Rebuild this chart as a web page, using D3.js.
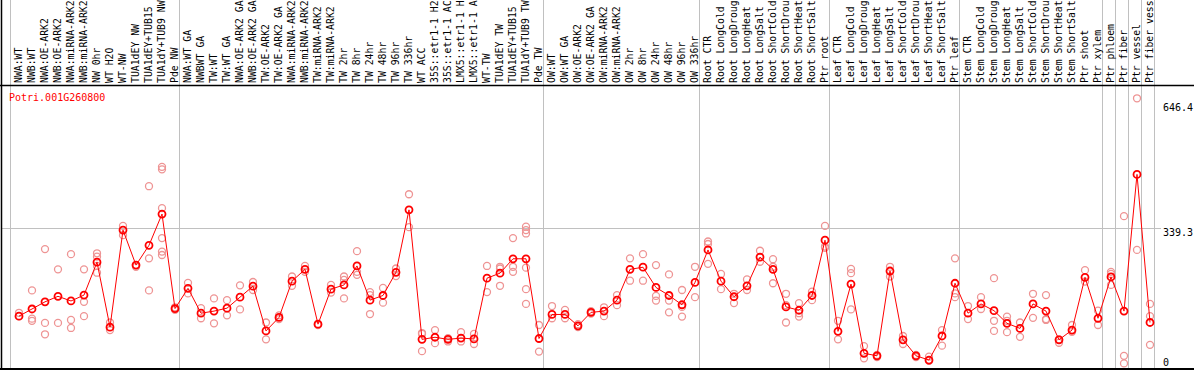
<!DOCTYPE html>
<html>
<head>
<meta charset="utf-8">
<script src="https://cdn.jsdelivr.net/npm/d3@7/dist/d3.min.js"></script>
<style>
  body { margin: 0; background: #fff; }
  svg { display: block; }
  text { font-family: "DejaVu Sans Mono", "Liberation Mono", monospace; }
</style>
</head>
<body>
<script>
var svgWidth = 1194;
var svgHeight = 370;

var geneName = "Potri.001G260800";

var samples = [
  "NWA:WT", "NWB:WT", "NWA:OE-ARK2", "NWB:OE-ARK2", "NWA:miRNA-ARK2", "NWB:miRNA-ARK2",
  "NW 0hr", "WT H2O", "WT-NW", "TUA1dEY NW", "TUA1dEY+TUB15", "TUA1dY+TUB9 NW", "Pde NW",
  "NWA:WT GA", "NWBWT GA", "TW:WT", "TW:WT GA", "NWA:OE-ARK2 GA", "NWB:OE-ARK2 GA",
  "TW:OE-ARK2", "TW:OE-ARK2 GA", "NWA:miRNA-ARK2 ", "NWB:miRNA-ARK2 ", "TW:miRNA-ARK2",
  "TW:miRNA-ARK2 ", "TW 2hr", "TW 8hr", "TW 24hr", "TW 48hr", "TW 96hr", "TW 336hr",
  "WT ACC", "35S::etr1-1 H2O", "35S::etr1-1 ACC", "LMX5::etr1-1 H2O", "LMX5::etr1-1 ACC",
  "WT-TW", "TUA1dEY TW", "TUA1dEY+TUB15 ", "TUA1dY+TUB9 TW", "Pde TW",
  "OW:WT", "OW:WT GA", "OW:OE-ARK2", "OW:OE-ARK2 GA", "OW:miRNA-ARK2", "OW:miRNA-ARK2 ",
  "OW 2hr", "OW 8hr", "OW 24hr", "OW 48hr", "OW 96hr", "OW 336hr",
  "Root CTR", "Root LongCold", "Root LongDrought", "Root LongHeat", "Root LongSalt",
  "Root ShortCold", "Root ShortDrought", "Root ShortHeat", "Root ShortSalt", "Ptr root",
  "Leaf CTR", "Leaf LongCold", "Leaf LongDrought", "Leaf LongHeat", "Leaf LongSalt",
  "Leaf ShortCold", "Leaf ShortDrought", "Leaf ShortHeat", "Leaf ShortSalt", "Ptr leaf",
  "Stem CTR", "Stem LongCold", "Stem LongDrought", "Stem LongHeat", "Stem LongSalt",
  "Stem ShortCold", "Stem ShortDrought", "Stem ShortHeat", "Stem ShortSalt", "Ptr shoot",
  "Ptr xylem", "Ptr phloem", "Ptr fiber", "Ptr vessel", "Ptr fiber vessel"
];

// first sample of each block separated by a grey line
var groupStarts = ["NWA:WT", "NWA:WT GA", "OW:WT", "Root CTR", "Leaf CTR", "Stem CTR",
  "Ptr phloem", "Ptr fiber", "Ptr vessel", "Ptr fiber vessel"];

var means = [
  130, 147, 164, 177, 166, 180, 258, 104, 334, 251,
  298, 372, 148, 196, 137, 142, 149, 175, 201, 95,
  127, 213, 241, 111, 194, 204, 249, 168, 179, 234,
  382, 75, 80, 75, 78, 76, 220, 232, 266, 266,
  77, 134, 134, 107, 139, 142, 168, 241, 246, 198,
  179, 157, 210, 287, 213, 176, 202, 270, 241, 152,
  144, 179, 310, 94, 206, 42, 36, 237, 74, 36,
  26, 83, 208, 137, 159, 143, 113, 101, 159, 142,
  74, 97, 222, 125, 223, 142, 466, 115
];

var replicates = [
  [138, 130], [191, 124, 119], [289, 114, 87], [241, 114], [277, 121, 102],
  [241, 164, 130], [279, 271, 249, 233], [115, 97], [344, 322], [251, 247],
  [438, 267, 191], [484, 478, 386, 315, 283, 275], [151, 145], [209, 184], [149, 125],
  [172, 113], [168, 132], [203, 146], [211, 192], [115, 75],
  [132, 123], [224, 202], [249, 235], [111, 109], [204, 186],
  [224, 216, 172], [284, 235, 228], [187, 180, 135], [197, 162], [243, 225],
  [419, 341], [90, 88, 47], [97, 66], [78, 70], [92, 70],
  [88, 64], [249, 187], [247, 243, 202], [315, 247, 235], [342, 334, 326, 245, 194, 159],
  [109, 46], [154, 125], [145, 125], [111, 104], [142, 136],
  [151, 130], [180, 156], [267, 214], [277, 214], [251, 178, 167],
  [229, 167, 139], [192, 152, 129], [247, 175], [307, 301, 254], [230, 194],
  [183, 161], [217, 192], [285, 259], [265, 247, 208], [183, 156, 115],
  [161, 137, 129], [188, 168], [344, 295, 292], [119, 75], [242, 232, 146],
  [59, 30], [38, 33], [247, 224], [83, 64], [38, 33],
  [34, 24], [97, 60], [267, 184, 175], [154, 123], [175, 147],
  [220, 119, 95], [129, 119, 92], [115, 81], [183, 126], [180, 123, 121],
  [75, 67], [109, 93], [239, 212], [143, 109], [235, 230, 204],
  [367, 36, 18], [646.4, 287], [159, 130, 62]
];

var yMax = 646.4;
var gridValue = 339.3;
var tickValues = [0, 339.3, 646.4];

var labelBottom = 83;
var plotTop = 85.5;
var plotBottom = 369;

var svg = d3.select("body")
  .append("svg")
  .attr("width", svgWidth)
  .attr("height", svgHeight);

var x = d3.scaleBand()
  .domain(samples)
  .range([10, 10 + samples.length * 13]);

var y = d3.scaleLinear()
  .domain([0, yMax])
  .range([371, 98.3]);

var xRight = x.range()[1];

// vertical separators, through the label area as well
svg.append("g")
  .selectAll("line")
  .data(groupStarts.map(d => x(d)).concat([xRight]))
  .enter()
  .append("line")
  .attr("x1", d => d + 0.5)
  .attr("x2", d => d + 0.5)
  .attr("y1", 0)
  .attr("y2", plotBottom)
  .attr("stroke", "#c0c0c0")
  .attr("stroke-width", 1);

// horizontal reference line
svg.append("line")
  .attr("x1", 1)
  .attr("x2", 1161)
  .attr("y1", Math.round(y(gridValue)) + 0.5)
  .attr("y2", Math.round(y(gridValue)) + 0.5)
  .attr("stroke", "#c0c0c0")
  .attr("stroke-width", 1);

// frame
svg.append("line")
  .attr("x1", 0).attr("x2", svgWidth)
  .attr("y1", plotTop).attr("y2", plotTop)
  .attr("stroke", "#000").attr("stroke-width", 1.5);
svg.append("line")
  .attr("x1", 0).attr("x2", svgWidth)
  .attr("y1", plotBottom).attr("y2", plotBottom)
  .attr("stroke", "#000").attr("stroke-width", 2);
svg.append("line")
  .attr("x1", 1.5).attr("x2", 1.5)
  .attr("y1", 0).attr("y2", svgHeight)
  .attr("stroke", "#000").attr("stroke-width", 1.5);

// sample labels
svg.append("g")
  .selectAll("text")
  .data(samples)
  .enter()
  .append("text")
  .attr("transform", d => `translate(${x(d) + 8.3}, ${labelBottom}) rotate(-90)`)
  .attr("dy", "0.35em")
  .attr("font-size", "9.8px")
  .attr("fill", "#000")
  .text(d => d.trim());

// gene name
svg.append("text")
  .attr("x", 9)
  .attr("y", 101)
  .attr("font-size", "10px")
  .attr("fill", "#ff0000")
  .text(geneName);

// right-hand value labels
svg.append("g")
  .selectAll("text")
  .data(tickValues)
  .enter()
  .append("text")
  .attr("x", 1163)
  .attr("y", d => Math.min(Math.max(y(d) + 8, 111), 365.5))
  .attr("font-size", "10px")
  .attr("fill", "#000")
  .text(d => d);

// replicate points
var reps = [];
samples.forEach(function(s, i) {
  replicates[i].forEach(function(v) {
    reps.push({ sample: s, value: v });
  });
});

svg.append("g")
  .selectAll("circle")
  .data(reps)
  .enter()
  .append("circle")
  .attr("cx", d => x(d.sample) + 9)
  .attr("cy", d => y(d.value))
  .attr("r", 3.5)
  .attr("fill", "none")
  .attr("stroke", "#ee9494")
  .attr("stroke-width", 1.3);

// mean line
var meanData = samples.map((s, i) => ({ sample: s, value: means[i] }));

var line = d3.line()
  .x(d => x(d.sample) + 9)
  .y(d => y(d.value));

svg.append("path")
  .attr("d", line(meanData))
  .attr("fill", "none")
  .attr("stroke", "#ff0000")
  .attr("stroke-width", 1);

svg.append("g")
  .selectAll("circle")
  .data(meanData)
  .enter()
  .append("circle")
  .attr("cx", d => x(d.sample) + 9)
  .attr("cy", d => y(d.value))
  .attr("r", 3.5)
  .attr("fill", "none")
  .attr("stroke", "#ff0000")
  .attr("stroke-width", 1.8);
</script>
</body>
</html>
